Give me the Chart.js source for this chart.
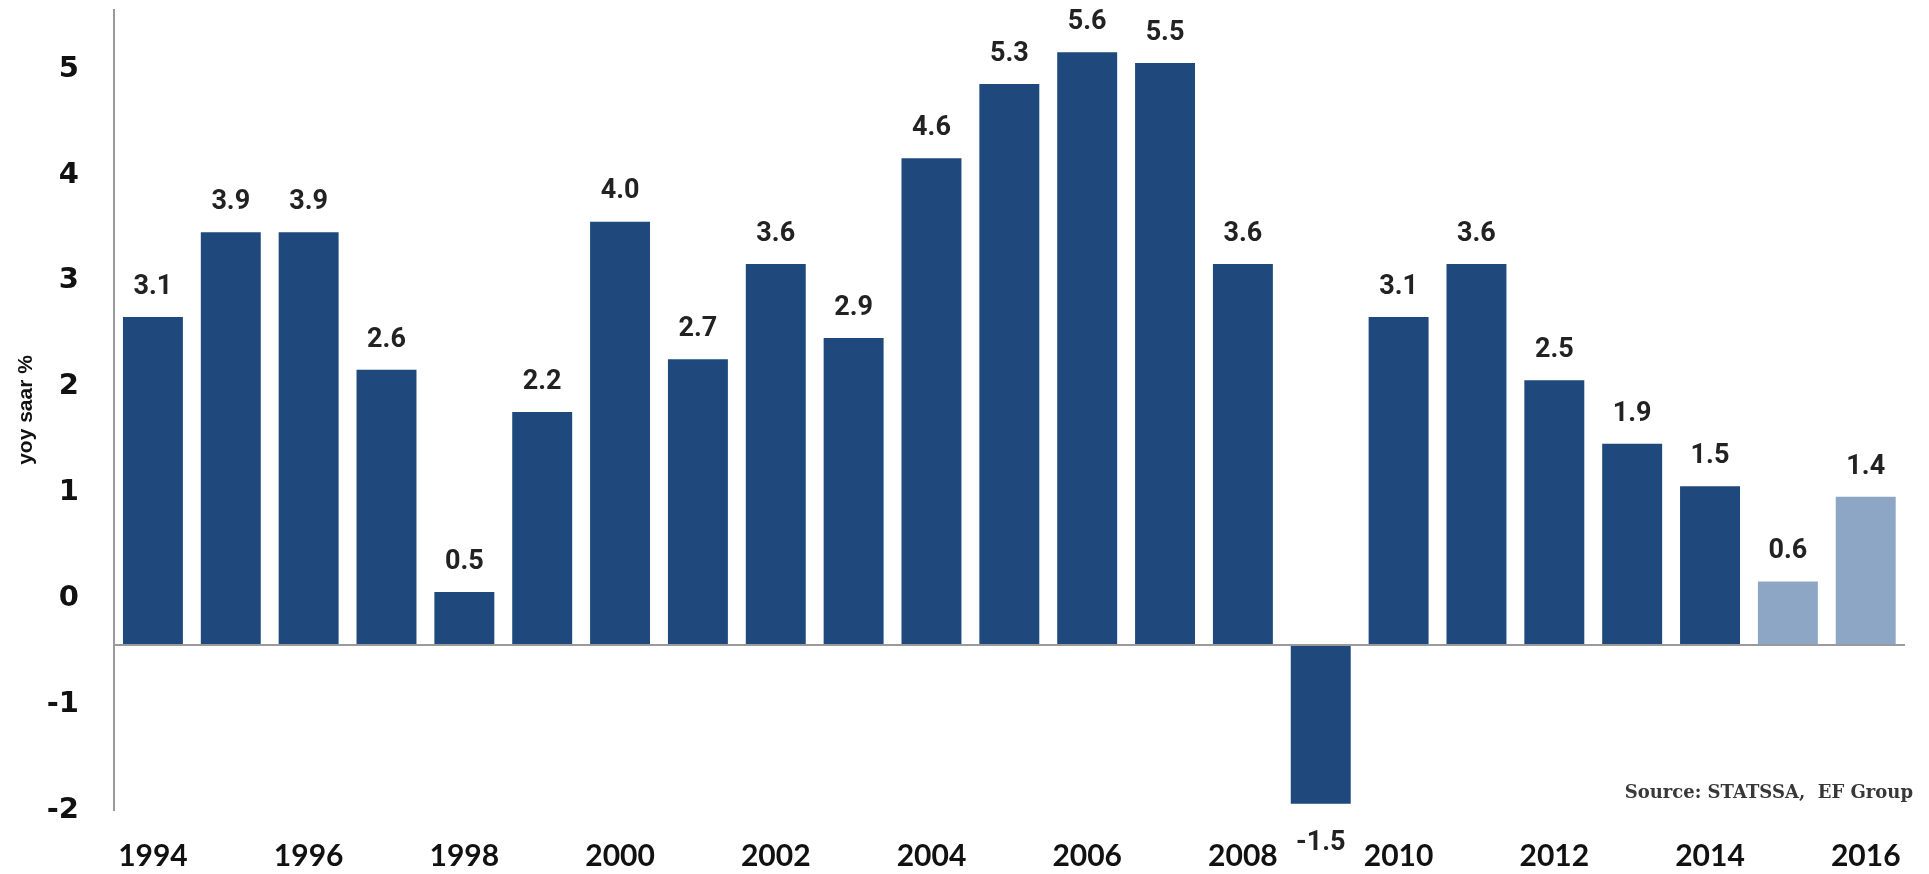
<!DOCTYPE html>
<html>
<head>
<meta charset="utf-8">
<script src="https://cdn.jsdelivr.net/npm/chart.js@4.4.1/dist/chart.umd.min.js"></script>
<style>
  html, body { margin: 0; padding: 0; background: #fff; }
  canvas { display: block; }
</style>
</head>
<body>
<canvas id="gdp" width="1929" height="874"></canvas>
<script>
const years = ["1994", "1995", "1996", "1997", "1998", "1999", "2000", "2001", "2002", "2003", "2004", "2005",
  "2006", "2007", "2008", "2009", "2010", "2011", "2012", "2013", "2014", "2015", "2016"];
const growth = [3.1, 3.9, 3.9, 2.6, 0.5, 2.2, 4.0, 2.7, 3.6, 2.9, 4.6, 5.3,
  5.6, 5.5, 3.6, -1.5, 3.1, 3.6, 2.5, 1.9, 1.5, 0.6, 1.4];
const forecastYears = ["2015", "2016"];
const yTickLabels = [-2, -1, 0, 1, 2, 3, 4, 5];

const DARK = "#1f497d";
const LIGHT = "#8ea6c6";

// value labels above / below each bar
const valueLabels = {
  id: "valueLabels",
  afterDatasetsDraw(chart) {
    const ctx = chart.ctx;
    const meta = chart.getDatasetMeta(0);
    ctx.save();
    ctx.font = "bold 27px Roboto, 'Liberation Sans', sans-serif";
    ctx.fillStyle = "#222";
    ctx.textAlign = "center";
    ctx.textBaseline = "middle";
    meta.data.forEach((bar, i) => {
      const v = growth[i];
      const y = v >= 0 ? bar.y - 30 : bar.y + 40;
      ctx.fillText(v.toFixed(1), bar.x, y);
    });
    ctx.restore();
  }
};

const sourceNote = {
  id: "sourceNote",
  afterDraw(chart) {
    const ctx = chart.ctx;
    ctx.save();
    ctx.font = "bold 18px 'DejaVu Serif', 'Liberation Serif', serif";
    ctx.fillStyle = "#383838";
    ctx.textAlign = "right";
    ctx.textBaseline = "middle";
    ctx.fillText("Source: STATSSA,  EF Group", chart.width - 16, chart.chartArea.bottom - 17);
    ctx.restore();
  }
};

new Chart(document.getElementById("gdp"), {
  type: "bar",
  data: {
    labels: years,
    datasets: [{
      label: "yoy saar %",
      data: growth,
      yAxisID: "y",
      backgroundColor: (c) => forecastYears.includes(years[c.dataIndex]) ? LIGHT : DARK,
      borderWidth: 0,
      barPercentage: 0.77,
      categoryPercentage: 1.0
    }]
  },
  options: {
    responsive: false,
    animation: false,
    layout: { padding: { top: 10, left: 0, right: 0, bottom: 0 } },
    plugins: {
      legend: { display: false },
      tooltip: { enabled: false }
    },
    scales: {
      x: {
        grid: { display: false, drawTicks: false },
        border: { display: false },
        ticks: {
          autoSkip: false,
          maxRotation: 0,
          padding: 28,
          color: "#111",
          font: { family: "Lato, 'Open Sans', sans-serif", weight: "bold", size: 30 },
          callback: (val, i) => (i % 2 === 0 ? years[i] : "")
        },
        afterFit: (s) => { s.height = 64; }
      },
      // value axis for the bars: only its zero line is shown
      y: {
        position: "right",
        min: -1.56,
        max: 6.0,
        ticks: { display: false, stepSize: 1 },
        border: { display: false },
        grid: {
          drawTicks: false,
          lineWidth: 2,
          color: (c) => (c.tick && c.tick.value === 0 ? "#9a9a9a" : "rgba(0,0,0,0)")
        },
        afterFit: (s) => { s.width = 21.5; s.paddingTop = 0; s.paddingBottom = 0; }
      },
      // the printed tick labels sit about half a unit above the bar scale
      yLabels: {
        position: "left",
        min: yTickLabels[0],
        max: 5.56,
        grid: { display: false, drawTicks: false },
        border: { display: true, color: "#9a9a9a", width: 2 },
        title: {
          display: true,
          text: "yoy saar %",
          color: "#111",
          font: { family: "'Liberation Sans', Arial, sans-serif", weight: "bold", size: 21 },
          padding: { top: 14, bottom: 2 }
        },
        ticks: {
          stepSize: 1,
          includeBounds: false,
          padding: 35,
          color: "#111",
          font: { family: "'DejaVu Sans', Verdana, sans-serif", weight: "bold", size: 29 },
          callback: (v) => (yTickLabels.includes(v) ? String(v) : "")
        },
        afterFit: (s) => { s.width = 114; s.paddingTop = 0; s.paddingBottom = 0; }
      }
    }
  },
  plugins: [valueLabels, sourceNote]
});
</script>
</body>
</html>
